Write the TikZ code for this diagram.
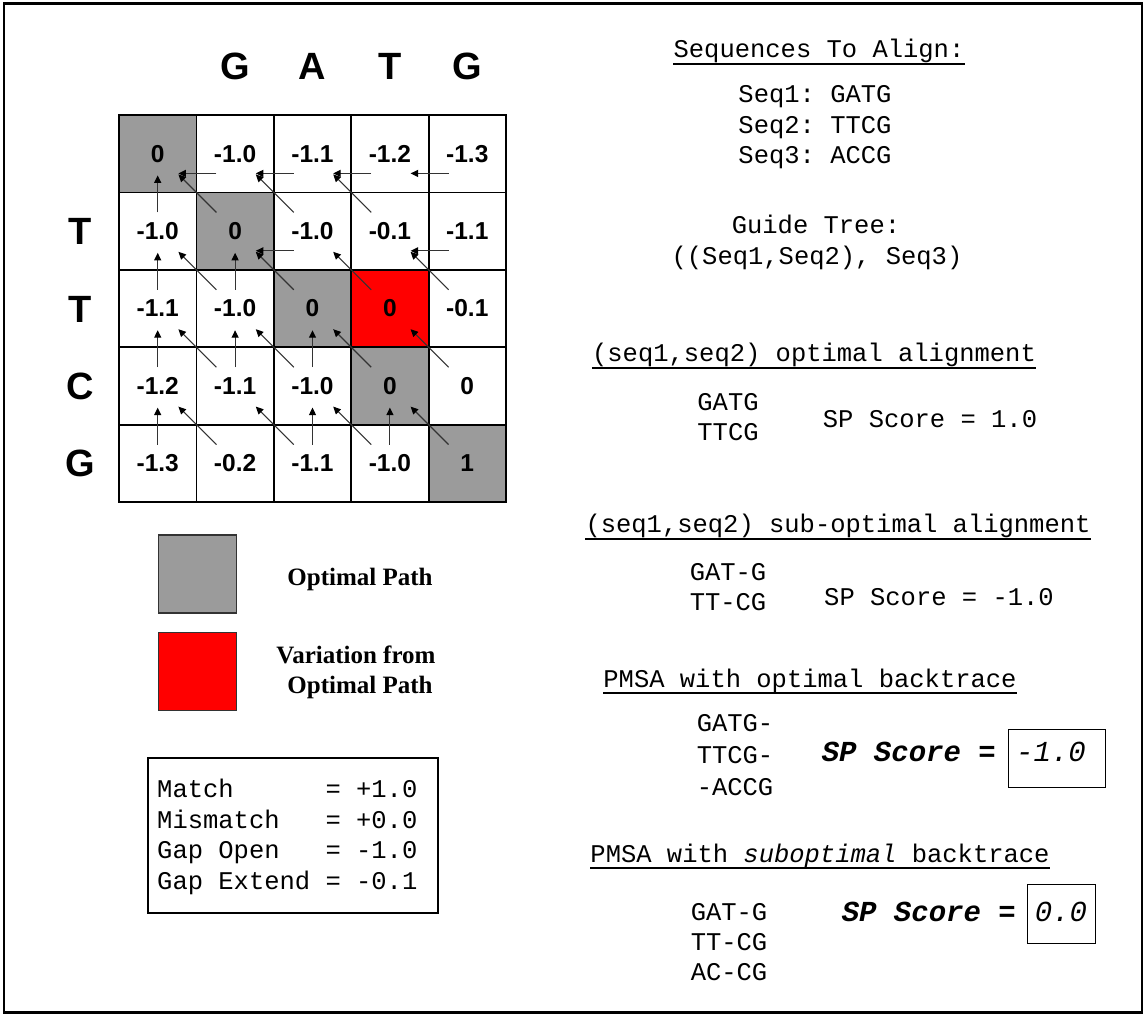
\documentclass[tikz,border=0pt]{standalone}
\usepackage{fontspec}
\setmainfont{Liberation Serif}
\setsansfont{Liberation Sans}
\setmonofont{Liberation Mono}
\usetikzlibrary{arrows.meta,calc}
\definecolor{optgray}{RGB}{155,155,155}
\definecolor{varred}{RGB}{255,0,0}
\frenchspacing
\begin{document}
\begin{tikzpicture}[x=1pt,y=-1pt,
  cell/.style={draw=black,line width=1.8pt,minimum size=77.4pt,inner sep=0pt,outer sep=0pt,fill=white,font=\sffamily\bfseries\fontsize{24.5}{28}\selectfont},
  hdr/.style={anchor=base,inner sep=0pt,font=\sffamily\bfseries\fontsize{38}{44}\selectfont},
  arr/.style={draw=black!80,line width=1.1pt,-{Triangle[length=7.5pt,width=7pt,color=black]}},
  mono/.style={anchor=base,inner sep=0pt,font=\ttfamily\fontsize{25.5}{30}\selectfont},
  monol/.style={mono,anchor=base west},
  spbig/.style={anchor=base east,inner sep=0pt,font=\ttfamily\bfseries\itshape\fontsize{29}{34}\selectfont},
  spval/.style={anchor=base,inner sep=0pt,font=\ttfamily\itshape\fontsize{29}{34}\selectfont},
  spbox/.style={draw=black,line width=1pt,inner sep=0pt,outer sep=0pt},
  legsq/.style={draw=black!80,line width=1.2pt,minimum size=78pt,inner sep=0pt},
  legtxt/.style={anchor=base,inner sep=0pt,font=\rmfamily\bfseries\fontsize{25}{30}\selectfont},
  uline/.style={line width=2pt}
]
\useasboundingbox (0,0) rectangle (1146,1014);
\draw[line width=2.4pt] (4,3.5) rectangle (1142,1012.5);

% grid cells
\foreach \r/\c/\v/\f in {0/0/0/optgray,0/1/-1.0/white,0/2/-1.1/white,0/3/-1.2/white,0/4/-1.3/white,
1/0/-1.0/white,1/1/0/optgray,1/2/-1.0/white,1/3/-0.1/white,1/4/-1.1/white,
2/0/-1.1/white,2/1/-1.0/white,2/2/0/optgray,2/3/0/varred,2/4/-0.1/white,
3/0/-1.2/white,3/1/-1.1/white,3/2/-1.0/white,3/3/0/optgray,3/4/0/white,
4/0/-1.3/white,4/1/-0.2/white,4/2/-1.1/white,4/3/-1.0/white,4/4/1/optgray}
  \node[cell,fill=\f] (c\r\c) at ({157.7+77.4*\c},{153.7+77.4*\r}) {\v};
\draw[line width=2.5pt] (c00.north west) rectangle (c44.south east);

% diagonal arrows
\foreach \r/\c/\pr/\pc in {1/1/0/0,1/2/0/1,1/3/0/2,2/1/1/0,2/2/1/1,2/3/1/2,2/4/1/3,3/1/2/0,3/2/2/1,3/3/2/2,3/4/2/3,4/1/3/0,4/2/3/1,4/3/3/2,4/4/3/3}
  \draw[arr] ($(c\r\c.north west)+(20,20)$) -- ($(c\pr\pc.south east)+(-18,-18)$);
% up arrows
\foreach \r/\c/\pr in {1/0/0,2/0/1,2/1/1,3/0/2,3/1/2,3/2/2,4/0/3,4/2/3,4/3/3}
  \draw[arr] ($(c\r\c.north)+(0,20)$) -- ($(c\pr\c.south)+(0,-17)$);
% left arrows
\foreach \r/\c/\pc in {0/1/0,0/2/1,0/3/2,0/4/3,1/2/1,1/4/3}
  \draw[arr] ($(c\r\c.south west)+(20,-19)$) -- ($(c\r\pc.south east)+(-18,-19)$);

% headers
\foreach \c/\l in {1/G,2/A,3/T,4/G} \node[hdr] (h\c) at ({157.7+77.4*\c},80) {\l};
\foreach \r/\l in {1/T,2/T,3/C,4/G} \node[hdr] (rl\r) at (80,{167.3+77.4*\r}) {\l};

% legend
\node[legsq,fill=optgray] (lg1) at (197.5,574) {};
\node[legsq,fill=varred] (lg2) at (197.5,671.5) {};
\node[legtxt] (lt1) at (360,585) {Optimal Path};
\node[legtxt] (lt2) at (356,663) {Variation from};
\node[legtxt] (lt3) at (360,693) {Optimal Path};

% scoring box
\node[draw,line width=2pt,minimum width=290pt,minimum height=155pt,inner sep=0pt] (sbox) at (293,835.5) {};
\node[monol] (s1) at (157,797) {Match\ \ \ \ \ \ = +1.0};
\node[monol] (s2) at (157,828) {Mismatch\ \ \ = +0.0};
\node[monol] (s3) at (157,858) {Gap Open\ \ \ = -1.0};
\node[monol] (s4) at (157,889) {Gap Extend = -0.1};

% right column
\node[mono] (t1) at (819,58) {Sequences To Align:};
\draw[uline] ($(t1.base west)+(0,6)$) -- ($(t1.base east)+(0,6)$);
\node[mono] (q1) at (815,103) {Seq1: GATG};
\node[mono] (q2) at (815,134) {Seq2: TTCG};
\node[mono] (q3) at (815,164) {Seq3: ACCG};
\node[mono] (g1) at (816,233) {Guide Tree:};
\node[mono] (g2) at (817,264) {((Seq1,Seq2), Seq3)};

\node[mono] (t2) at (814,361) {(seq1,seq2) optimal alignment};
\draw[uline] ($(t2.base west)+(0,7)$) -- ($(t2.base east)+(0,7)$);
\node[mono] (a1) at (728,410) {GATG};
\node[mono] (a2) at (728,440) {TTCG};
\node[mono] (a3) at (930,427) {SP Score = 1.0};

\node[mono] (t3) at (838,532) {(seq1,seq2) sub-optimal alignment};
\draw[uline] ($(t3.base west)+(0,6.5)$) -- ($(t3.base east)+(0,6.5)$);
\node[mono] (b1) at (728,580) {GAT-G};
\node[mono] (b2) at (728,610) {TT-CG};
\node[mono] (b3) at (939,605) {SP Score = -1.0};

\node[mono] (t4) at (810,687) {PMSA with optimal backtrace};
\draw[uline] ($(t4.base west)+(0,6)$) -- ($(t4.base east)+(0,6)$);
\node[mono] (m1) at (735,731) {GATG-};
\node[mono] (m2) at (735,763) {TTCG-};
\node[mono] (m3) at (735,795) {-ACCG};
\node[spbig] (m4) at (996,761) {SP Score =};
\node[spbox,minimum width=97pt,minimum height=58pt] (m5) at (1056.5,758) {};
\node[spval] (m6) at (1051,761) {-1.0};

\node[mono] (t5) at (820,862) {PMSA with \textit{suboptimal} backtrace};
\draw[uline] ($(t5.base west)+(0,6)$) -- ($(t5.base east)+(0,6)$);
\node[mono] (n1) at (729,920) {GAT-G};
\node[mono] (n2) at (729,950) {TT-CG};
\node[mono] (n3) at (729,980) {AC-CG};
\node[spbig] (n4) at (1016,921) {SP Score =};
\node[spbox,minimum width=68pt,minimum height=59pt] (n5) at (1061,913.5) {};
\node[spval] (n6) at (1061,921) {0.0};
\end{tikzpicture}
\end{document}
